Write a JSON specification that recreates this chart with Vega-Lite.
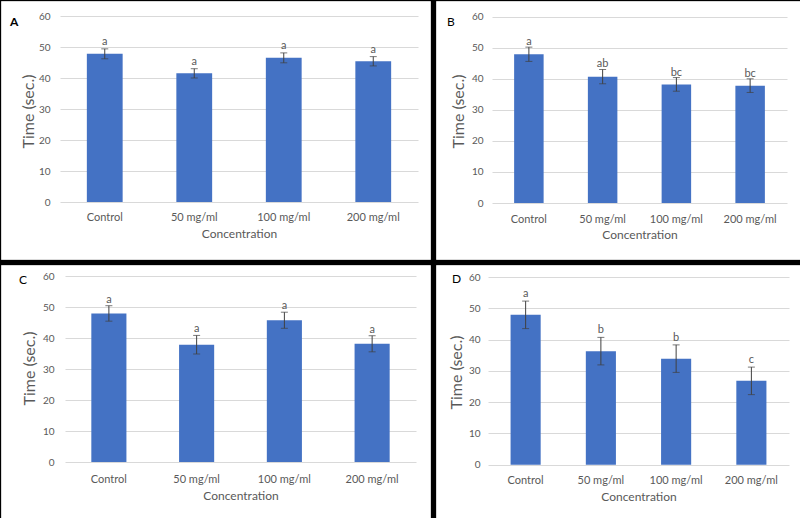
{
  "$schema": "https://vega.github.io/schema/vega-lite/v6.json",
  "background": "black",
  "padding": 0,
  "spacing": 4,
  "datasets": {
    "A": [
      {"conc": "Control", "mean": 47.8, "lo": 46.2, "hi": 49.4, "letter": "a"},
      {"conc": "50 mg/ml", "mean": 41.5, "lo": 40.0, "hi": 43.0, "letter": "a"},
      {"conc": "100 mg/ml", "mean": 46.5, "lo": 44.9, "hi": 48.1, "letter": "a"},
      {"conc": "200 mg/ml", "mean": 45.4, "lo": 43.9, "hi": 46.9, "letter": "a"}
    ],
    "B": [
      {"conc": "Control", "mean": 47.9, "lo": 45.6, "hi": 50.2, "letter": "a"},
      {"conc": "50 mg/ml", "mean": 40.7, "lo": 38.4, "hi": 43.0, "letter": "ab"},
      {"conc": "100 mg/ml", "mean": 38.2, "lo": 36.0, "hi": 40.4, "letter": "bc"},
      {"conc": "200 mg/ml", "mean": 37.8, "lo": 35.6, "hi": 40.0, "letter": "bc"}
    ],
    "C": [
      {"conc": "Control", "mean": 48.0, "lo": 45.5, "hi": 50.5, "letter": "a"},
      {"conc": "50 mg/ml", "mean": 37.9, "lo": 34.9, "hi": 40.9, "letter": "a"},
      {"conc": "100 mg/ml", "mean": 45.8, "lo": 43.2, "hi": 48.4, "letter": "a"},
      {"conc": "200 mg/ml", "mean": 38.2, "lo": 35.6, "hi": 40.8, "letter": "a"}
    ],
    "D": [
      {"conc": "Control", "mean": 47.9, "lo": 43.5, "hi": 52.3, "letter": "a"},
      {"conc": "50 mg/ml", "mean": 36.3, "lo": 31.9, "hi": 40.7, "letter": "b"},
      {"conc": "100 mg/ml", "mean": 33.9, "lo": 29.5, "hi": 38.3, "letter": "b"},
      {"conc": "200 mg/ml", "mean": 26.8, "lo": 22.4, "hi": 31.2, "letter": "c"}
    ]
  },
  "vconcat": [
    {
      "spacing": 4,
      "hconcat": [
        {
          "width": 429, "height": 258,
          "title": {"text": "A", "anchor": "start", "frame": "group", "offset": -36.5, "dx": 9, "baseline": "alphabetic", "fontSize": 12, "fontWeight": "bold", "color": "#000000"},
          "data": {"name": "A"},
          "encoding": {
            "x": {"field": "conc", "type": "nominal", "sort": ["Control", "50 mg/ml", "100 mg/ml", "200 mg/ml"],
              "scale": {"range": [59, 417], "paddingInner": 0.6, "paddingOuter": 0.3},
              "axis": {"orient": "bottom", "offset": -57, "labelPadding": 9, "title": "Concentration", "titleY": 31}}
          },
          "layer": [
            {"mark": {"type": "bar", "color": "#4472C4"},
             "encoding": {"y": {"field": "mean", "type": "quantitative",
               "scale": {"domain": [0, 60], "range": [201, 15], "nice": false},
               "axis": {"title": "Time (sec.)", "offset": -59, "labelPadding": 10, "titleX": -32, "titleY": 110}}}},
            {"mark": {"type": "rule", "color": "#404040", "strokeWidth": 1},
             "encoding": {"y": {"field": "lo", "type": "quantitative"}, "y2": {"field": "hi"}}},
            {"mark": {"type": "tick", "color": "#404040", "thickness": 1, "size": 7},
             "encoding": {"y": {"field": "lo", "type": "quantitative"}}},
            {"mark": {"type": "tick", "color": "#404040", "thickness": 1, "size": 7},
             "encoding": {"y": {"field": "hi", "type": "quantitative"}}},
            {"mark": {"type": "text", "baseline": "alphabetic", "dy": -4, "fontSize": 11, "color": "#595959"},
             "encoding": {"y": {"field": "hi", "type": "quantitative"}, "text": {"field": "letter"}}}
          ]
        },
        {
          "width": 367, "height": 258,
          "title": {"text": "B", "anchor": "start", "frame": "group", "offset": -36.5, "dx": 11, "baseline": "alphabetic", "fontSize": 12, "fontWeight": "normal", "color": "#000000"},
          "data": {"name": "B"},
          "encoding": {
            "x": {"field": "conc", "type": "nominal", "sort": ["Control", "50 mg/ml", "100 mg/ml", "200 mg/ml"],
              "scale": {"range": [56, 351], "paddingInner": 0.6, "paddingOuter": 0.3},
              "axis": {"orient": "bottom", "offset": -56, "labelPadding": 10, "title": "Concentration", "titleY": 31}}
          },
          "layer": [
            {"mark": {"type": "bar", "color": "#4472C4"},
             "encoding": {"y": {"field": "mean", "type": "quantitative",
               "scale": {"domain": [0, 60], "range": [202, 15.7], "nice": false},
               "axis": {"title": "Time (sec.)", "offset": -56, "labelPadding": 9, "titleX": -34, "titleY": 110}}}},
            {"mark": {"type": "rule", "color": "#404040", "strokeWidth": 1},
             "encoding": {"y": {"field": "lo", "type": "quantitative"}, "y2": {"field": "hi"}}},
            {"mark": {"type": "tick", "color": "#404040", "thickness": 1, "size": 7},
             "encoding": {"y": {"field": "lo", "type": "quantitative"}}},
            {"mark": {"type": "tick", "color": "#404040", "thickness": 1, "size": 7},
             "encoding": {"y": {"field": "hi", "type": "quantitative"}}},
            {"mark": {"type": "text", "baseline": "alphabetic", "dy": -2, "fontSize": 11, "color": "#595959"},
             "encoding": {"y": {"field": "hi", "type": "quantitative"}, "text": {"field": "letter"}}}
          ]
        }
      ]
    },
    {
      "spacing": 4,
      "hconcat": [
        {
          "width": 429, "height": 256,
          "title": {"text": "C", "anchor": "start", "frame": "group", "offset": -30.5, "dx": 18, "baseline": "alphabetic", "fontSize": 12, "fontWeight": "normal", "color": "#000000"},
          "data": {"name": "C"},
          "encoding": {
            "x": {"field": "conc", "type": "nominal", "sort": ["Control", "50 mg/ml", "100 mg/ml", "200 mg/ml"],
              "scale": {"range": [64, 415], "paddingInner": 0.6, "paddingOuter": 0.3},
              "axis": {"orient": "bottom", "offset": -59, "labelPadding": 11, "title": "Concentration", "titleY": 33}}
          },
          "layer": [
            {"mark": {"type": "bar", "color": "#4472C4"},
             "encoding": {"y": {"field": "mean", "type": "quantitative",
               "scale": {"domain": [0, 60], "range": [197, 11.3], "nice": false},
               "axis": {"title": "Time (sec.)", "offset": -64, "labelPadding": 11, "titleX": -36, "titleY": 103}}}},
            {"mark": {"type": "rule", "color": "#404040", "strokeWidth": 1},
             "encoding": {"y": {"field": "lo", "type": "quantitative"}, "y2": {"field": "hi"}}},
            {"mark": {"type": "tick", "color": "#404040", "thickness": 1, "size": 7},
             "encoding": {"y": {"field": "lo", "type": "quantitative"}}},
            {"mark": {"type": "tick", "color": "#404040", "thickness": 1, "size": 7},
             "encoding": {"y": {"field": "hi", "type": "quantitative"}}},
            {"mark": {"type": "text", "baseline": "alphabetic", "dy": -3, "fontSize": 11, "color": "#595959"},
             "encoding": {"y": {"field": "hi", "type": "quantitative"}, "text": {"field": "letter"}}}
          ]
        },
        {
          "width": 367, "height": 256,
          "title": {"text": "D", "anchor": "start", "frame": "group", "offset": -29.5, "dx": 16, "baseline": "alphabetic", "fontSize": 12, "fontWeight": "normal", "color": "#000000"},
          "data": {"name": "D"},
          "encoding": {
            "x": {"field": "conc", "type": "nominal", "sort": ["Control", "50 mg/ml", "100 mg/ml", "200 mg/ml"],
              "scale": {"range": [52, 353], "paddingInner": 0.6, "paddingOuter": 0.3},
              "axis": {"orient": "bottom", "offset": -56.3, "labelPadding": 10, "title": "Concentration", "titleY": 32}}
          },
          "layer": [
            {"mark": {"type": "bar", "color": "#4472C4"},
             "encoding": {"y": {"field": "mean", "type": "quantitative",
               "scale": {"domain": [0, 60], "range": [199.7, 12], "nice": false},
               "axis": {"title": "Time (sec.)", "offset": -52, "labelPadding": 8, "titleX": -32, "titleY": 107}}}},
            {"mark": {"type": "rule", "color": "#404040", "strokeWidth": 1},
             "encoding": {"y": {"field": "lo", "type": "quantitative"}, "y2": {"field": "hi"}}},
            {"mark": {"type": "tick", "color": "#404040", "thickness": 1, "size": 7},
             "encoding": {"y": {"field": "lo", "type": "quantitative"}}},
            {"mark": {"type": "tick", "color": "#404040", "thickness": 1, "size": 7},
             "encoding": {"y": {"field": "hi", "type": "quantitative"}}},
            {"mark": {"type": "text", "baseline": "alphabetic", "dy": -4, "fontSize": 11, "color": "#595959"},
             "encoding": {"y": {"field": "hi", "type": "quantitative"}, "text": {"field": "letter"}}}
          ]
        }
      ]
    }
  ],
  "config": {
    "font": "Lato",
    "view": {"fill": "white", "stroke": "#d9d9d9", "strokeWidth": 1},
    "axis": {
      "ticks": false, "tickSize": 0, "domain": false,
      "labelColor": "#595959", "labelFontSize": 10, "labelAngle": 0,
      "titleColor": "#595959", "titleFontWeight": "normal", "titleBaseline": "middle",
      "gridColor": "#d9d9d9", "gridWidth": 1
    },
    "axisX": {"grid": false, "titleFontSize": 12, "labelFontSize": 11},
    "axisY": {"grid": true, "values": [0, 10, 20, 30, 40, 50, 60], "titleFontSize": 16, "titleAngle": 270}
  }
}
